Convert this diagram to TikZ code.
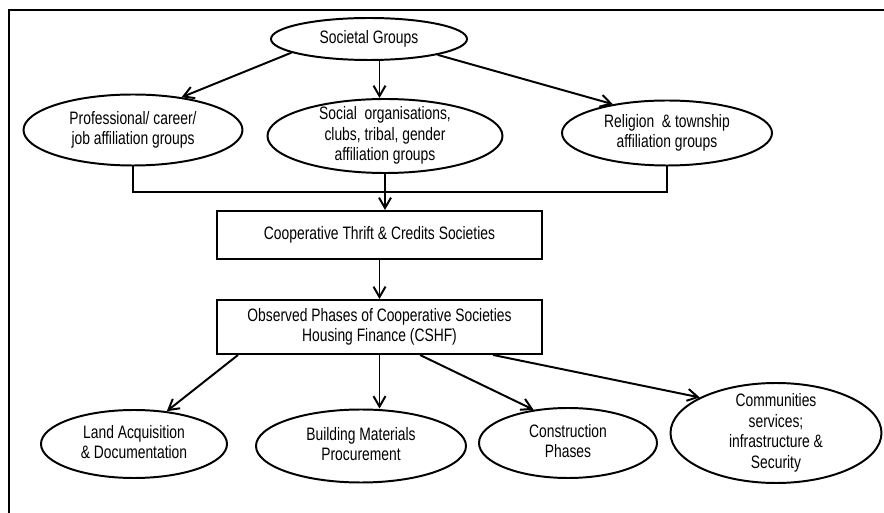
\documentclass[tikz,border=0pt]{standalone}
\usepackage{fontspec}
\setmainfont[FakeStretch=0.77]{Liberation Sans}
\usetikzlibrary{shapes.geometric, arrows.meta, positioning, calc}
\newcommand{\ltext}[1]{\smash{\raisebox{-3.2pt}{\begin{tabular}{@{}c@{}}#1\end{tabular}}}}

\begin{document}
\begin{tikzpicture}[
  grp/.style={ellipse, draw, line width=1.4pt, inner sep=0pt,
              font=\fontsize{12.8}{14.6}\selectfont},
  box/.style={rectangle, draw, line width=1.4pt, minimum width=8.125cm,
              align=center, font=\fontsize{12.8}{14.6}\selectfont},
  link/.style={line width=1.4pt, -{Straight Barb[length=2.6mm, width=3mm]}}
]
  \useasboundingbox (0,0) rectangle (22.1,-12.825);
  \draw[line width=1.7pt] (0.225,-12.825) -- (0.225,-0.25) -- (22.1,-0.25);

  \node[grp, minimum width=4.9cm, minimum height=1.05cm] (soc) at (9.225,-0.975)
    {Societal Groups};

  \node[grp, minimum width=5.475cm, minimum height=1.775cm] (prof) at (3.325,-3.25)
    {\ltext{Professional/ career/\\ job affiliation groups}};
  \node[grp, minimum width=5.875cm, minimum height=1.85cm] (social) at (9.625,-3.4)
    {\ltext{Social\ \ organisations,\\ clubs, tribal, gender\\ affiliation groups}};
  \node[grp, minimum width=5.25cm, minimum height=1.625cm] (rel) at (16.675,-3.325)
    {\ltext{Religion\ \ \& township\\ affiliation groups}};

  \node[box, minimum height=1.2cm] (thrift) at (9.4875,-5.875)
    {Cooperative Thrift \& Credits Societies};
  \node[box, minimum height=1.35cm] (phases) at (9.4875,-8.175)
    {Observed Phases of Cooperative Societies\\ Housing Finance (CSHF)};

  \node[grp, minimum width=4.65cm, minimum height=1.7cm] (land) at (3.35,-11.1)
    {\ltext{Land Acquisition\\ \& Documentation}};
  \node[grp, minimum width=5.25cm, minimum height=1.825cm] (build) at (9.025,-11.15)
    {\ltext{Building Materials\\ Procurement}};
  \node[grp, minimum width=4.45cm, minimum height=1.75cm] (cons) at (14.2,-11.075)
    {\ltext{Construction\\ Phases}};
  \node[grp, minimum width=5.275cm, minimum height=2.5cm] (comm) at (19.4,-10.825)
    {\ltext{Communities\\ services;\\ infrastructure \&\\ Security}};

  % top level
  \draw[link] (soc.190.7) -- (prof.34);
  \draw[link] (soc.south -| thrift.north) -- (social.north -| thrift.north);
  \draw[link] (soc.347.7) -- (rel.152.7);

  % merge into thrift society
  \coordinate (bus) at (9.625,-4.8);
  \draw[line width=1.4pt] (prof.south) |- (bus) -| (rel.south);
  \draw[link] (social.south) -- (social.south |- thrift.north);
  \draw[link] (thrift) -- (phases);

  % phases
  \draw[link] ([xshift=0.55cm]phases.south west) -- (land.45);
  \draw[link] (phases.south) -- (phases.south |- build.north);
  \draw[link] ([xshift=1.0125cm]phases.south) -- (cons.136);
  \draw[link] ([xshift=2.84cm]phases.south) -- (comm.155);
\end{tikzpicture}
\end{document}
